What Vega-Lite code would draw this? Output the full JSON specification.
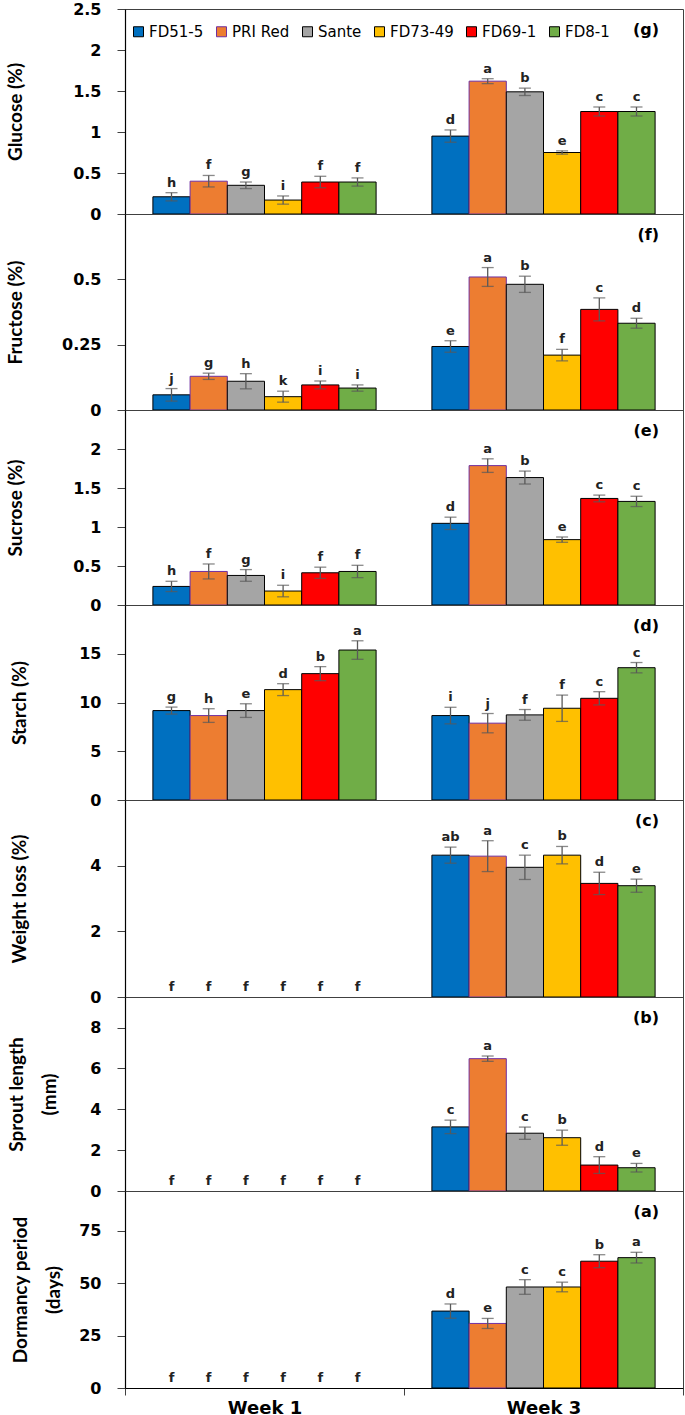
{
"$schema": "https://vega.github.io/schema/vega-lite/v6.json",
"padding": {"left": 5, "top": 0, "right": 0, "bottom": 0},
"spacing": 0,
"bounds": "flush",
"datasets": {"d": [
{"p":"g","w":"Week 1","g":"FD51-5","v":0.21,"e":0.05,"L":"h"},
{"p":"g","w":"Week 1","g":"PRI Red","v":0.40,"e":0.07,"L":"f"},
{"p":"g","w":"Week 1","g":"Sante","v":0.35,"e":0.04,"L":"g"},
{"p":"g","w":"Week 1","g":"FD73-49","v":0.17,"e":0.05,"L":"i"},
{"p":"g","w":"Week 1","g":"FD69-1","v":0.39,"e":0.07,"L":"f"},
{"p":"g","w":"Week 1","g":"FD8-1","v":0.39,"e":0.05,"L":"f"},
{"p":"g","w":"Week 3","g":"FD51-5","v":0.95,"e":0.075,"L":"d"},
{"p":"g","w":"Week 3","g":"PRI Red","v":1.62,"e":0.03,"L":"a"},
{"p":"g","w":"Week 3","g":"Sante","v":1.49,"e":0.045,"L":"b"},
{"p":"g","w":"Week 3","g":"FD73-49","v":0.75,"e":0.02,"L":"e"},
{"p":"g","w":"Week 3","g":"FD69-1","v":1.25,"e":0.055,"L":"c"},
{"p":"g","w":"Week 3","g":"FD8-1","v":1.25,"e":0.055,"L":"c"},
{"p":"f","w":"Week 1","g":"FD51-5","v":0.058,"e":0.024,"L":"j"},
{"p":"f","w":"Week 1","g":"PRI Red","v":0.129,"e":0.012,"L":"g"},
{"p":"f","w":"Week 1","g":"Sante","v":0.11,"e":0.029,"L":"h"},
{"p":"f","w":"Week 1","g":"FD73-49","v":0.051,"e":0.021,"L":"k"},
{"p":"f","w":"Week 1","g":"FD69-1","v":0.096,"e":0.015,"L":"i"},
{"p":"f","w":"Week 1","g":"FD8-1","v":0.084,"e":0.012,"L":"i"},
{"p":"f","w":"Week 3","g":"FD51-5","v":0.243,"e":0.022,"L":"e"},
{"p":"f","w":"Week 3","g":"PRI Red","v":0.509,"e":0.036,"L":"a"},
{"p":"f","w":"Week 3","g":"Sante","v":0.481,"e":0.031,"L":"b"},
{"p":"f","w":"Week 3","g":"FD73-49","v":0.21,"e":0.022,"L":"f"},
{"p":"f","w":"Week 3","g":"FD69-1","v":0.385,"e":0.044,"L":"c"},
{"p":"f","w":"Week 3","g":"FD8-1","v":0.332,"e":0.019,"L":"d"},
{"p":"e","w":"Week 1","g":"FD51-5","v":0.238,"e":0.066,"L":"h"},
{"p":"e","w":"Week 1","g":"PRI Red","v":0.43,"e":0.096,"L":"f"},
{"p":"e","w":"Week 1","g":"Sante","v":0.379,"e":0.075,"L":"g"},
{"p":"e","w":"Week 1","g":"FD73-49","v":0.179,"e":0.074,"L":"i"},
{"p":"e","w":"Week 1","g":"FD69-1","v":0.413,"e":0.072,"L":"f"},
{"p":"e","w":"Week 1","g":"FD8-1","v":0.43,"e":0.079,"L":"f"},
{"p":"e","w":"Week 3","g":"FD51-5","v":1.047,"e":0.079,"L":"d"},
{"p":"e","w":"Week 3","g":"PRI Red","v":1.787,"e":0.087,"L":"a"},
{"p":"e","w":"Week 3","g":"Sante","v":1.634,"e":0.083,"L":"b"},
{"p":"e","w":"Week 3","g":"FD73-49","v":0.838,"e":0.034,"L":"e"},
{"p":"e","w":"Week 3","g":"FD69-1","v":1.366,"e":0.043,"L":"c"},
{"p":"e","w":"Week 3","g":"FD8-1","v":1.328,"e":0.066,"L":"c"},
{"p":"d","w":"Week 1","g":"FD51-5","v":9.17,"e":0.36,"L":"g"},
{"p":"d","w":"Week 1","g":"PRI Red","v":8.66,"e":0.7,"L":"h"},
{"p":"d","w":"Week 1","g":"Sante","v":9.17,"e":0.7,"L":"e"},
{"p":"d","w":"Week 1","g":"FD73-49","v":11.32,"e":0.61,"L":"d"},
{"p":"d","w":"Week 1","g":"FD69-1","v":12.96,"e":0.72,"L":"b"},
{"p":"d","w":"Week 1","g":"FD8-1","v":15.38,"e":0.95,"L":"a"},
{"p":"d","w":"Week 3","g":"FD51-5","v":8.66,"e":0.85,"L":"i"},
{"p":"d","w":"Week 3","g":"PRI Red","v":7.88,"e":0.99,"L":"j"},
{"p":"d","w":"Week 3","g":"Sante","v":8.73,"e":0.55,"L":"f"},
{"p":"d","w":"Week 3","g":"FD73-49","v":9.41,"e":1.35,"L":"f"},
{"p":"d","w":"Week 3","g":"FD69-1","v":10.43,"e":0.68,"L":"c"},
{"p":"d","w":"Week 3","g":"FD8-1","v":13.57,"e":0.53,"L":"c"},
{"p":"c","w":"Week 1","g":"FD51-5","v":0,"e":0,"L":"f"},
{"p":"c","w":"Week 1","g":"PRI Red","v":0,"e":0,"L":"f"},
{"p":"c","w":"Week 1","g":"Sante","v":0,"e":0,"L":"f"},
{"p":"c","w":"Week 1","g":"FD73-49","v":0,"e":0,"L":"f"},
{"p":"c","w":"Week 1","g":"FD69-1","v":0,"e":0,"L":"f"},
{"p":"c","w":"Week 1","g":"FD8-1","v":0,"e":0,"L":"f"},
{"p":"c","w":"Week 3","g":"FD51-5","v":4.32,"e":0.245,"L":"ab"},
{"p":"c","w":"Week 3","g":"PRI Red","v":4.29,"e":0.47,"L":"a"},
{"p":"c","w":"Week 3","g":"Sante","v":3.95,"e":0.37,"L":"c"},
{"p":"c","w":"Week 3","g":"FD73-49","v":4.32,"e":0.265,"L":"b"},
{"p":"c","w":"Week 3","g":"FD69-1","v":3.46,"e":0.34,"L":"d"},
{"p":"c","w":"Week 3","g":"FD8-1","v":3.39,"e":0.2,"L":"e"},
{"p":"b","w":"Week 1","g":"FD51-5","v":0,"e":0,"L":"f"},
{"p":"b","w":"Week 1","g":"PRI Red","v":0,"e":0,"L":"f"},
{"p":"b","w":"Week 1","g":"Sante","v":0,"e":0,"L":"f"},
{"p":"b","w":"Week 1","g":"FD73-49","v":0,"e":0,"L":"f"},
{"p":"b","w":"Week 1","g":"FD69-1","v":0,"e":0,"L":"f"},
{"p":"b","w":"Week 1","g":"FD8-1","v":0,"e":0,"L":"f"},
{"p":"b","w":"Week 3","g":"FD51-5","v":3.14,"e":0.33,"L":"c"},
{"p":"b","w":"Week 3","g":"PRI Red","v":6.48,"e":0.13,"L":"a"},
{"p":"b","w":"Week 3","g":"Sante","v":2.83,"e":0.3,"L":"c"},
{"p":"b","w":"Week 3","g":"FD73-49","v":2.61,"e":0.37,"L":"b"},
{"p":"b","w":"Week 3","g":"FD69-1","v":1.27,"e":0.41,"L":"d"},
{"p":"b","w":"Week 3","g":"FD8-1","v":1.14,"e":0.21,"L":"e"},
{"p":"a","w":"Week 1","g":"FD51-5","v":0,"e":0,"L":"f"},
{"p":"a","w":"Week 1","g":"PRI Red","v":0,"e":0,"L":"f"},
{"p":"a","w":"Week 1","g":"Sante","v":0,"e":0,"L":"f"},
{"p":"a","w":"Week 1","g":"FD73-49","v":0,"e":0,"L":"f"},
{"p":"a","w":"Week 1","g":"FD69-1","v":0,"e":0,"L":"f"},
{"p":"a","w":"Week 1","g":"FD8-1","v":0,"e":0,"L":"f"},
{"p":"a","w":"Week 3","g":"FD51-5","v":36.7,"e":3.4,"L":"d"},
{"p":"a","w":"Week 3","g":"PRI Red","v":30.8,"e":2.4,"L":"e"},
{"p":"a","w":"Week 3","g":"Sante","v":48.2,"e":3.5,"L":"c"},
{"p":"a","w":"Week 3","g":"FD73-49","v":48.2,"e":2.3,"L":"c"},
{"p":"a","w":"Week 3","g":"FD69-1","v":60.5,"e":3.1,"L":"b"},
{"p":"a","w":"Week 3","g":"FD8-1","v":62.2,"e":2.55,"L":"a"}
]},
"data": {"name": "d"},
"vconcat": [
{
 "width": 558, "height": 205,
 "title": {"text": "(g)", "anchor": "end", "frame": "group", "offset": -37, "dx": -24},
 "transform": [{"filter": "datum.p=='g'"}, {"calculate": "datum.v-datum.e", "as": "lo"}, {"calculate": "datum.v+datum.e", "as": "hi"}],
 "encoding": {
  "x": {"field": "w", "type": "nominal", "sort": ["Week 1","Week 3"], "scale": {"paddingInner": 0, "paddingOuter": 0}, "axis": {"labels": false, "ticks": false, "title": null}},
  "xOffset": {"field": "g", "type": "nominal", "sort": ["FD51-5","PRI Red","Sante","FD73-49","FD69-1","FD8-1"], "scale": {"paddingInner": 0, "paddingOuter": 0.75}}
 },
 "layer": [
  {"transform": [{"filter": "datum.v>0"}], "mark": {"type": "bar", "strokeWidth": 1}, "encoding": {
   "y": {"field": "v", "type": "quantitative", "title": "Glucose (%)", "scale": {"domain": [0, 2.5]}, "axis": {"values": [0,0.5,1,1.5,2,2.5], "format": ".3~g", "titleX": -100}},
   "fill": {"field": "g", "type": "nominal", "scale": {"domain": ["FD51-5","PRI Red","Sante","FD73-49","FD69-1","FD8-1"], "range": ["#0070C0","#ED7D31","#A5A5A5","#FFC000","#FF0000","#70AD47"]},
     "legend": {"orient": "none", "legendX": 6, "legendY": 15, "direction": "horizontal", "columns": 6, "title": null}},
   "stroke": {"field": "g", "type": "nominal", "scale": {"domain": ["FD51-5","PRI Red","Sante","FD73-49","FD69-1","FD8-1"], "range": ["#000000","#7030A0","#000000","#000000","#000000","#000000"]},
     "legend": {"orient": "none", "legendX": 6, "legendY": 15, "direction": "horizontal", "columns": 6, "title": null}}
  }},
  {"transform": [{"filter": "datum.e>0"}], "mark": {"type": "rule", "color": "#595959", "strokeWidth": 1.3}, "encoding": {"y": {"field": "lo", "type": "quantitative", "title": "Glucose (%)", "scale": {"domain": [0, 2.5]}}, "y2": {"field": "hi"}}},
  {"transform": [{"filter": "datum.e>0"}], "mark": {"type": "tick", "color": "#595959", "size": 12, "thickness": 1.3}, "encoding": {"y": {"field": "lo", "type": "quantitative", "title": "Glucose (%)", "scale": {"domain": [0, 2.5]}}}},
  {"transform": [{"filter": "datum.e>0"}], "mark": {"type": "tick", "color": "#595959", "size": 12, "thickness": 1.3}, "encoding": {"y": {"field": "hi", "type": "quantitative", "title": "Glucose (%)", "scale": {"domain": [0, 2.5]}}}},
  {"mark": {"type": "text", "baseline": "bottom", "dy": -3, "font": "DejaVu Sans", "fontWeight": "bold", "fontSize": 13, "color": "#222222"}, "encoding": {"y": {"field": "hi", "type": "quantitative", "title": "Glucose (%)", "scale": {"domain": [0, 2.5]}}, "text": {"field": "L"}}}
 ]
},
{
 "width": 558, "height": 196,
 "title": {"text": "(f)", "anchor": "end", "frame": "group", "offset": -29, "dx": -24},
 "transform": [{"filter": "datum.p=='f'"}, {"calculate": "datum.v-datum.e", "as": "lo"}, {"calculate": "datum.v+datum.e", "as": "hi"}],
 "encoding": {
  "x": {"field": "w", "type": "nominal", "sort": ["Week 1","Week 3"], "scale": {"paddingInner": 0, "paddingOuter": 0}, "axis": {"labels": false, "ticks": false, "title": null}},
  "xOffset": {"field": "g", "type": "nominal", "sort": ["FD51-5","PRI Red","Sante","FD73-49","FD69-1","FD8-1"], "scale": {"paddingInner": 0, "paddingOuter": 0.75}}
 },
 "layer": [
  {"transform": [{"filter": "datum.v>0"}], "mark": {"type": "bar", "strokeWidth": 1}, "encoding": {
   "y": {"field": "v", "type": "quantitative", "title": "Fructose (%)", "scale": {"domain": [0, 0.75]}, "axis": {"values": [0,0.25,0.5], "format": ".3~g", "titleX": -100}},
   "fill": {"field": "g", "type": "nominal", "legend": null},
   "stroke": {"field": "g", "type": "nominal", "legend": null}
  }},
  {"transform": [{"filter": "datum.e>0"}], "mark": {"type": "rule", "color": "#595959", "strokeWidth": 1.3}, "encoding": {"y": {"field": "lo", "type": "quantitative", "title": "Fructose (%)", "scale": {"domain": [0, 0.75]}}, "y2": {"field": "hi"}}},
  {"transform": [{"filter": "datum.e>0"}], "mark": {"type": "tick", "color": "#595959", "size": 12, "thickness": 1.3}, "encoding": {"y": {"field": "lo", "type": "quantitative", "title": "Fructose (%)", "scale": {"domain": [0, 0.75]}}}},
  {"transform": [{"filter": "datum.e>0"}], "mark": {"type": "tick", "color": "#595959", "size": 12, "thickness": 1.3}, "encoding": {"y": {"field": "hi", "type": "quantitative", "title": "Fructose (%)", "scale": {"domain": [0, 0.75]}}}},
  {"mark": {"type": "text", "baseline": "bottom", "dy": -3, "font": "DejaVu Sans", "fontWeight": "bold", "fontSize": 13, "color": "#222222"}, "encoding": {"y": {"field": "hi", "type": "quantitative", "title": "Fructose (%)", "scale": {"domain": [0, 0.75]}}, "text": {"field": "L"}}}
 ]
},
{
 "width": 558, "height": 195,
 "title": {"text": "(e)", "anchor": "end", "frame": "group", "offset": -29, "dx": -24},
 "transform": [{"filter": "datum.p=='e'"}, {"calculate": "datum.v-datum.e", "as": "lo"}, {"calculate": "datum.v+datum.e", "as": "hi"}],
 "encoding": {
  "x": {"field": "w", "type": "nominal", "sort": ["Week 1","Week 3"], "scale": {"paddingInner": 0, "paddingOuter": 0}, "axis": {"labels": false, "ticks": false, "title": null}},
  "xOffset": {"field": "g", "type": "nominal", "sort": ["FD51-5","PRI Red","Sante","FD73-49","FD69-1","FD8-1"], "scale": {"paddingInner": 0, "paddingOuter": 0.75}}
 },
 "layer": [
  {"transform": [{"filter": "datum.v>0"}], "mark": {"type": "bar", "strokeWidth": 1}, "encoding": {
   "y": {"field": "v", "type": "quantitative", "title": "Sucrose (%)", "scale": {"domain": [0, 2.5]}, "axis": {"values": [0,0.5,1,1.5,2], "format": ".3~g", "titleX": -100}},
   "fill": {"field": "g", "type": "nominal", "legend": null},
   "stroke": {"field": "g", "type": "nominal", "legend": null}
  }},
  {"transform": [{"filter": "datum.e>0"}], "mark": {"type": "rule", "color": "#595959", "strokeWidth": 1.3}, "encoding": {"y": {"field": "lo", "type": "quantitative", "title": "Sucrose (%)", "scale": {"domain": [0, 2.5]}}, "y2": {"field": "hi"}}},
  {"transform": [{"filter": "datum.e>0"}], "mark": {"type": "tick", "color": "#595959", "size": 12, "thickness": 1.3}, "encoding": {"y": {"field": "lo", "type": "quantitative", "title": "Sucrose (%)", "scale": {"domain": [0, 2.5]}}}},
  {"transform": [{"filter": "datum.e>0"}], "mark": {"type": "tick", "color": "#595959", "size": 12, "thickness": 1.3}, "encoding": {"y": {"field": "hi", "type": "quantitative", "title": "Sucrose (%)", "scale": {"domain": [0, 2.5]}}}},
  {"mark": {"type": "text", "baseline": "bottom", "dy": -3, "font": "DejaVu Sans", "fontWeight": "bold", "fontSize": 13, "color": "#222222"}, "encoding": {"y": {"field": "hi", "type": "quantitative", "title": "Sucrose (%)", "scale": {"domain": [0, 2.5]}}, "text": {"field": "L"}}}
 ]
},
{
 "width": 558, "height": 195,
 "title": {"text": "(d)", "anchor": "end", "frame": "group", "offset": -29, "dx": -24},
 "transform": [{"filter": "datum.p=='d'"}, {"calculate": "datum.v-datum.e", "as": "lo"}, {"calculate": "datum.v+datum.e", "as": "hi"}],
 "encoding": {
  "x": {"field": "w", "type": "nominal", "sort": ["Week 1","Week 3"], "scale": {"paddingInner": 0, "paddingOuter": 0}, "axis": {"labels": false, "ticks": false, "title": null}},
  "xOffset": {"field": "g", "type": "nominal", "sort": ["FD51-5","PRI Red","Sante","FD73-49","FD69-1","FD8-1"], "scale": {"paddingInner": 0, "paddingOuter": 0.75}}
 },
 "layer": [
  {"transform": [{"filter": "datum.v>0"}], "mark": {"type": "bar", "strokeWidth": 1}, "encoding": {
   "y": {"field": "v", "type": "quantitative", "title": "Starch (%)", "scale": {"domain": [0, 20]}, "axis": {"values": [0,5,10,15], "format": ".3~g", "titleX": -96}},
   "fill": {"field": "g", "type": "nominal", "legend": null},
   "stroke": {"field": "g", "type": "nominal", "legend": null}
  }},
  {"transform": [{"filter": "datum.e>0"}], "mark": {"type": "rule", "color": "#595959", "strokeWidth": 1.3}, "encoding": {"y": {"field": "lo", "type": "quantitative", "title": "Starch (%)", "scale": {"domain": [0, 20]}}, "y2": {"field": "hi"}}},
  {"transform": [{"filter": "datum.e>0"}], "mark": {"type": "tick", "color": "#595959", "size": 12, "thickness": 1.3}, "encoding": {"y": {"field": "lo", "type": "quantitative", "title": "Starch (%)", "scale": {"domain": [0, 20]}}}},
  {"transform": [{"filter": "datum.e>0"}], "mark": {"type": "tick", "color": "#595959", "size": 12, "thickness": 1.3}, "encoding": {"y": {"field": "hi", "type": "quantitative", "title": "Starch (%)", "scale": {"domain": [0, 20]}}}},
  {"mark": {"type": "text", "baseline": "bottom", "dy": -3, "font": "DejaVu Sans", "fontWeight": "bold", "fontSize": 13, "color": "#222222"}, "encoding": {"y": {"field": "hi", "type": "quantitative", "title": "Starch (%)", "scale": {"domain": [0, 20]}}, "text": {"field": "L"}}}
 ]
},
{
 "width": 558, "height": 197,
 "title": {"text": "(c)", "anchor": "end", "frame": "group", "offset": -29, "dx": -24},
 "transform": [{"filter": "datum.p=='c'"}, {"calculate": "datum.v-datum.e", "as": "lo"}, {"calculate": "datum.v+datum.e", "as": "hi"}],
 "encoding": {
  "x": {"field": "w", "type": "nominal", "sort": ["Week 1","Week 3"], "scale": {"paddingInner": 0, "paddingOuter": 0}, "axis": {"labels": false, "ticks": false, "title": null}},
  "xOffset": {"field": "g", "type": "nominal", "sort": ["FD51-5","PRI Red","Sante","FD73-49","FD69-1","FD8-1"], "scale": {"paddingInner": 0, "paddingOuter": 0.75}}
 },
 "layer": [
  {"transform": [{"filter": "datum.v>0"}], "mark": {"type": "bar", "strokeWidth": 1}, "encoding": {
   "y": {"field": "v", "type": "quantitative", "title": "Weight loss (%)", "scale": {"domain": [0, 6]}, "axis": {"values": [0,2,4], "format": ".3~g", "titleX": -96}},
   "fill": {"field": "g", "type": "nominal", "legend": null},
   "stroke": {"field": "g", "type": "nominal", "legend": null}
  }},
  {"transform": [{"filter": "datum.e>0"}], "mark": {"type": "rule", "color": "#595959", "strokeWidth": 1.3}, "encoding": {"y": {"field": "lo", "type": "quantitative", "title": "Weight loss (%)", "scale": {"domain": [0, 6]}}, "y2": {"field": "hi"}}},
  {"transform": [{"filter": "datum.e>0"}], "mark": {"type": "tick", "color": "#595959", "size": 12, "thickness": 1.3}, "encoding": {"y": {"field": "lo", "type": "quantitative", "title": "Weight loss (%)", "scale": {"domain": [0, 6]}}}},
  {"transform": [{"filter": "datum.e>0"}], "mark": {"type": "tick", "color": "#595959", "size": 12, "thickness": 1.3}, "encoding": {"y": {"field": "hi", "type": "quantitative", "title": "Weight loss (%)", "scale": {"domain": [0, 6]}}}},
  {"mark": {"type": "text", "baseline": "bottom", "dy": -3, "font": "DejaVu Sans", "fontWeight": "bold", "fontSize": 13, "color": "#222222"}, "encoding": {"y": {"field": "hi", "type": "quantitative", "title": "Weight loss (%)", "scale": {"domain": [0, 6]}}, "text": {"field": "L"}}}
 ]
},
{
 "width": 558, "height": 194,
 "title": {"text": "(b)", "anchor": "end", "frame": "group", "offset": -29, "dx": -24},
 "transform": [{"filter": "datum.p=='b'"}, {"calculate": "datum.v-datum.e", "as": "lo"}, {"calculate": "datum.v+datum.e", "as": "hi"}],
 "encoding": {
  "x": {"field": "w", "type": "nominal", "sort": ["Week 1","Week 3"], "scale": {"paddingInner": 0, "paddingOuter": 0}, "axis": {"labels": false, "ticks": false, "title": null}},
  "xOffset": {"field": "g", "type": "nominal", "sort": ["FD51-5","PRI Red","Sante","FD73-49","FD69-1","FD8-1"], "scale": {"paddingInner": 0, "paddingOuter": 0.75}}
 },
 "layer": [
  {"transform": [{"filter": "datum.v>0"}], "mark": {"type": "bar", "strokeWidth": 1}, "encoding": {
   "y": {"field": "v", "type": "quantitative", "title": ["Sprout length", "(mm)"], "scale": {"domain": [0, 9.5]}, "axis": {"values": [0,2,4,6,8], "format": ".3~g", "titleX": -99, "titleLineHeight": 33}},
   "fill": {"field": "g", "type": "nominal", "legend": null},
   "stroke": {"field": "g", "type": "nominal", "legend": null}
  }},
  {"transform": [{"filter": "datum.e>0"}], "mark": {"type": "rule", "color": "#595959", "strokeWidth": 1.3}, "encoding": {"y": {"field": "lo", "type": "quantitative", "title": ["Sprout length", "(mm)"], "scale": {"domain": [0, 9.5]}}, "y2": {"field": "hi"}}},
  {"transform": [{"filter": "datum.e>0"}], "mark": {"type": "tick", "color": "#595959", "size": 12, "thickness": 1.3}, "encoding": {"y": {"field": "lo", "type": "quantitative", "title": ["Sprout length", "(mm)"], "scale": {"domain": [0, 9.5]}}}},
  {"transform": [{"filter": "datum.e>0"}], "mark": {"type": "tick", "color": "#595959", "size": 12, "thickness": 1.3}, "encoding": {"y": {"field": "hi", "type": "quantitative", "title": ["Sprout length", "(mm)"], "scale": {"domain": [0, 9.5]}}}},
  {"mark": {"type": "text", "baseline": "bottom", "dy": -3, "font": "DejaVu Sans", "fontWeight": "bold", "fontSize": 13, "color": "#222222"}, "encoding": {"y": {"field": "hi", "type": "quantitative", "title": ["Sprout length", "(mm)"], "scale": {"domain": [0, 9.5]}}, "text": {"field": "L"}}}
 ]
},
{
 "width": 558, "height": 197,
 "title": {"text": "(a)", "anchor": "end", "frame": "group", "offset": -29, "dx": -24},
 "transform": [{"filter": "datum.p=='a'"}, {"calculate": "datum.v-datum.e", "as": "lo"}, {"calculate": "datum.v+datum.e", "as": "hi"}],
 "encoding": {
  "x": {"field": "w", "type": "nominal", "sort": ["Week 1","Week 3"], "scale": {"paddingInner": 0, "paddingOuter": 0}, "axis": {"labels": true, "ticks": true, "tickBand": "extent", "tickSize": 7, "labelPadding": 4, "labelFontSize": 18, "labelAngle": 0, "title": null}},
  "xOffset": {"field": "g", "type": "nominal", "sort": ["FD51-5","PRI Red","Sante","FD73-49","FD69-1","FD8-1"], "scale": {"paddingInner": 0, "paddingOuter": 0.75}}
 },
 "layer": [
  {"transform": [{"filter": "datum.v>0"}], "mark": {"type": "bar", "strokeWidth": 1}, "encoding": {
   "y": {"field": "v", "type": "quantitative", "title": ["Dormancy period", "(days)"], "scale": {"domain": [0, 94]}, "axis": {"values": [0,25,50,75], "format": ".3~g", "titleX": -95, "titleLineHeight": 33}},
   "fill": {"field": "g", "type": "nominal", "legend": null},
   "stroke": {"field": "g", "type": "nominal", "legend": null}
  }},
  {"transform": [{"filter": "datum.e>0"}], "mark": {"type": "rule", "color": "#595959", "strokeWidth": 1.3}, "encoding": {"y": {"field": "lo", "type": "quantitative", "title": ["Dormancy period", "(days)"], "scale": {"domain": [0, 94]}}, "y2": {"field": "hi"}}},
  {"transform": [{"filter": "datum.e>0"}], "mark": {"type": "tick", "color": "#595959", "size": 12, "thickness": 1.3}, "encoding": {"y": {"field": "lo", "type": "quantitative", "title": ["Dormancy period", "(days)"], "scale": {"domain": [0, 94]}}}},
  {"transform": [{"filter": "datum.e>0"}], "mark": {"type": "tick", "color": "#595959", "size": 12, "thickness": 1.3}, "encoding": {"y": {"field": "hi", "type": "quantitative", "title": ["Dormancy period", "(days)"], "scale": {"domain": [0, 94]}}}},
  {"mark": {"type": "text", "baseline": "bottom", "dy": -3, "font": "DejaVu Sans", "fontWeight": "bold", "fontSize": 13, "color": "#222222"}, "encoding": {"y": {"field": "hi", "type": "quantitative", "title": ["Dormancy period", "(days)"], "scale": {"domain": [0, 94]}}, "text": {"field": "L"}}}
 ]
}
],
"config": {
 "view": {"stroke": "#404040", "strokeWidth": 1},
 "axis": {"labelFont": "DejaVu Sans", "labelFontWeight": "bold", "labelFontSize": 16, "labelColor": "#000000", "titleFont": "Lato", "titleFontWeight": "bold", "titleFontSize": 19, "titleColor": "#000000", "domainColor": "#000000", "domainWidth": 1.2, "tickColor": "#404040", "grid": false},
 "axisY": {"tickSize": 8, "labelPadding": 16},
 "legend": {"symbolType": "square", "symbolSize": 100, "symbolStrokeWidth": 1, "labelFont": "DejaVu Sans", "labelFontSize": 15, "labelColor": "#000000", "columnPadding": 10, "labelOffset": 3},
 "title": {"font": "DejaVu Sans", "fontSize": 16, "fontWeight": "bold", "color": "#000000"}
}
}
